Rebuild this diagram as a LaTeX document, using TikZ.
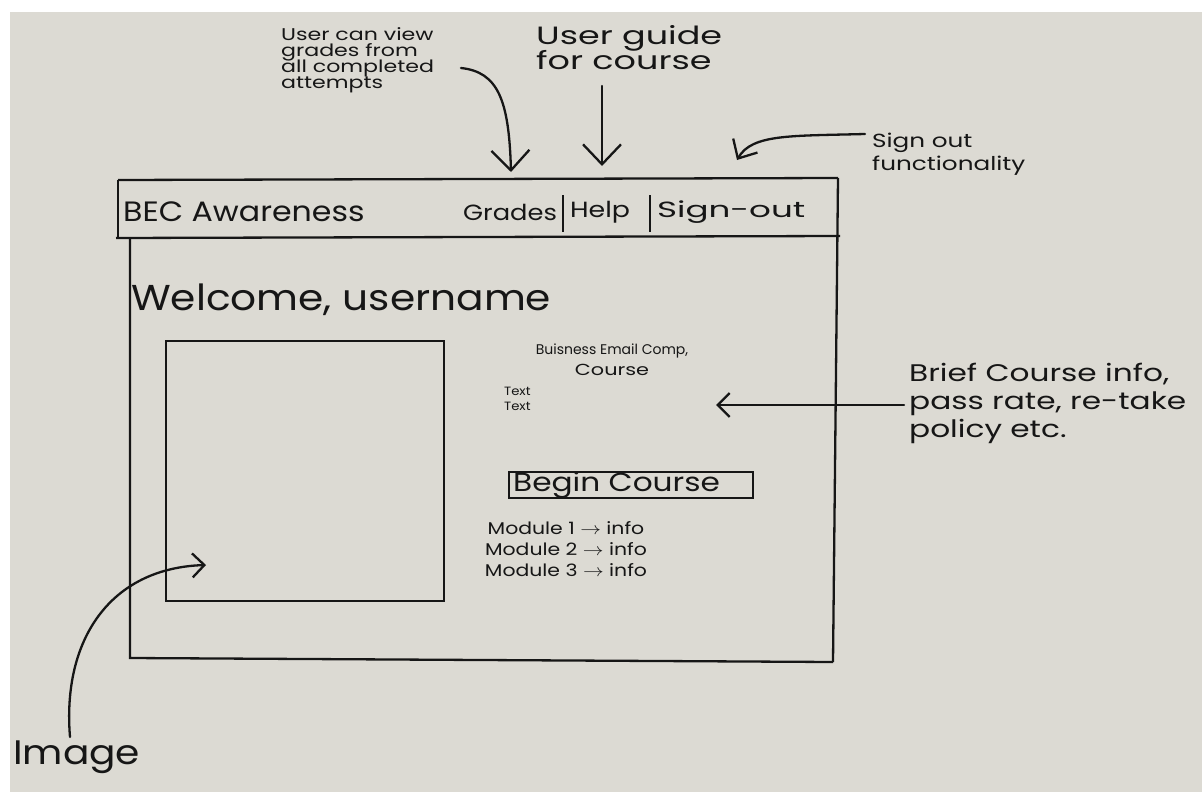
\documentclass[tikz,border=0pt]{standalone}
\usepackage{fontspec}
\usepackage{graphicx}
\setmainfont{Poppins}
\usetikzlibrary{arrows.meta,calc}
\definecolor{paper}{RGB}{220,218,211}
\definecolor{ink}{RGB}{22,22,22}
\newcommand{\fs}[2]{\fontsize{#1}{#2}\selectfont\lineskiplimit=-30pt\relax}
\newcommand{\sx}[2]{\scalebox{#1}[1]{#2}}
\begin{document}
\begin{tikzpicture}[x=1pt,y=-1pt,line width=2.3pt,draw=ink,
  lbl/.style={inner sep=0pt,text=ink,align=left},
  arr/.style={-{Straight Barb[length=20pt,width=38pt]},line cap=round},
  marr/.style={-{Straight Barb[length=15pt,width=28pt]},line cap=round},
  sarr/.style={-{Straight Barb[length=12pt,width=24pt]},line cap=round},
  boxline/.style={draw=ink,line width=2.3pt}]
\useasboundingbox (0,0) rectangle (1202,792);
\fill[white] (0,0) rectangle (1202,792);
\fill[paper] (10,12) rectangle (1202,792);
% frame
\draw (118,180) -- (838,178);
\draw (116,238) -- (840,236);
\draw (118,180) -- (118,238);
\draw (838,178) -- (833,662);
\draw (130,238) -- (130,658) -- (833,662);
% header
\node[lbl,anchor=west,font={\fs{28}{28}}] (title) at (122,212) {\sx{1.13}{BEC Awareness}};
\node[lbl,anchor=west,font={\fs{22}{22}}] (grades) at (462,212) {\sx{1.17}{Grades}};
\node[lbl,anchor=west,font={\fs{22}{22}}] (help) at (569,212) {\sx{1.22}{Help}};
\node[lbl,anchor=west,font={\fs{22}{22}}] (signout) at (656,212) {\sx{1.55}{Sign-out}};
\draw (563,195) -- (563,232);
\draw (650,195) -- (650,232);
% body
\node[lbl,anchor=west,font={\fs{36}{36}}] (welcome) at (130,300) {\sx{1.13}{Welcome, username}};
\node[boxline,anchor=north west,minimum width=278pt,minimum height=260pt,inner sep=0pt] (img) at (165,340) {};
\node[lbl,align=center,anchor=north,font={\fs{14}{21}}] (bec) at (612,343) {Buisness Email Comp,\\ {\fs{16}{21}\sx{1.3}{Course}}};
\node[lbl,anchor=north west,font={\fs{12}{15}}] (txt) at (503,386) {\sx{1.1}{Text}\\\sx{1.1}{Text}};
\node[boxline,anchor=north west,minimum width=244pt,minimum height=26pt,inner sep=0pt] (begin) at (508,471) {};
\node[lbl,anchor=west,font={\fs{26}{26}}] (begintxt) at (512,485) {\sx{1.2}{Begin Course}};
\node[lbl,align=center,anchor=north,font={\fs{17}{21}}] (mods) at (566,520) {\sx{1.2}{Module 1 $\rightarrow$ info}\\\sx{1.2}{Module 2 $\rightarrow$ info}\\\sx{1.2}{Module 3 $\rightarrow$ info}};
% annotations
\node[lbl,anchor=north west,font={\fs{17}{16}}] (gnote) at (280,26) {\sx{1.3}{User can view}\\\sx{1.3}{grades from}\\\sx{1.3}{all completed}\\\sx{1.3}{attempts}};
\node[lbl,anchor=north west,font={\fs{25}{25}}] (hnote) at (535,24) {\sx{1.4}{User guide}\\\sx{1.4}{for course}};
\node[lbl,anchor=north west,font={\fs{19}{23}}] (snote) at (871,132) {\sx{1.3}{Sign out}\\\sx{1.3}{functionality}};
\node[lbl,anchor=west,font={\fs{24}{28}}] (bnote) at (908,403) {\sx{1.3}{Brief Course info,}\\\sx{1.3}{pass rate, re-take}\\\sx{1.3}{policy etc.}};
\node[lbl,anchor=west,font={\fs{34}{34}}] (inote) at (12,757) {\sx{1.15}{Image}};
\coordinate (gstart) at (461,68);
\coordinate (gtip) at (511,172);
\coordinate (hstart) at (602,86);
\coordinate (htip) at (602,166);
\coordinate (sstart) at (865,134);
\coordinate (stip) at (737,160);
\coordinate (bstart) at (904,405);
\coordinate (btip) at (716,405);
\coordinate (istart) at (70,737);
\coordinate (itip) at (206,565);
\draw[arr] (gstart) .. controls (498,72) and (509,100) .. (gtip);
\draw[arr] (hstart) -- (htip);
\draw[marr] (sstart) .. controls (790,136) and (752,134) .. (stip);
\draw[sarr] (bstart) -- (btip);
\draw[sarr] (istart) .. controls (62,640) and (110,568) .. (itip);
\end{tikzpicture}
\end{document}
